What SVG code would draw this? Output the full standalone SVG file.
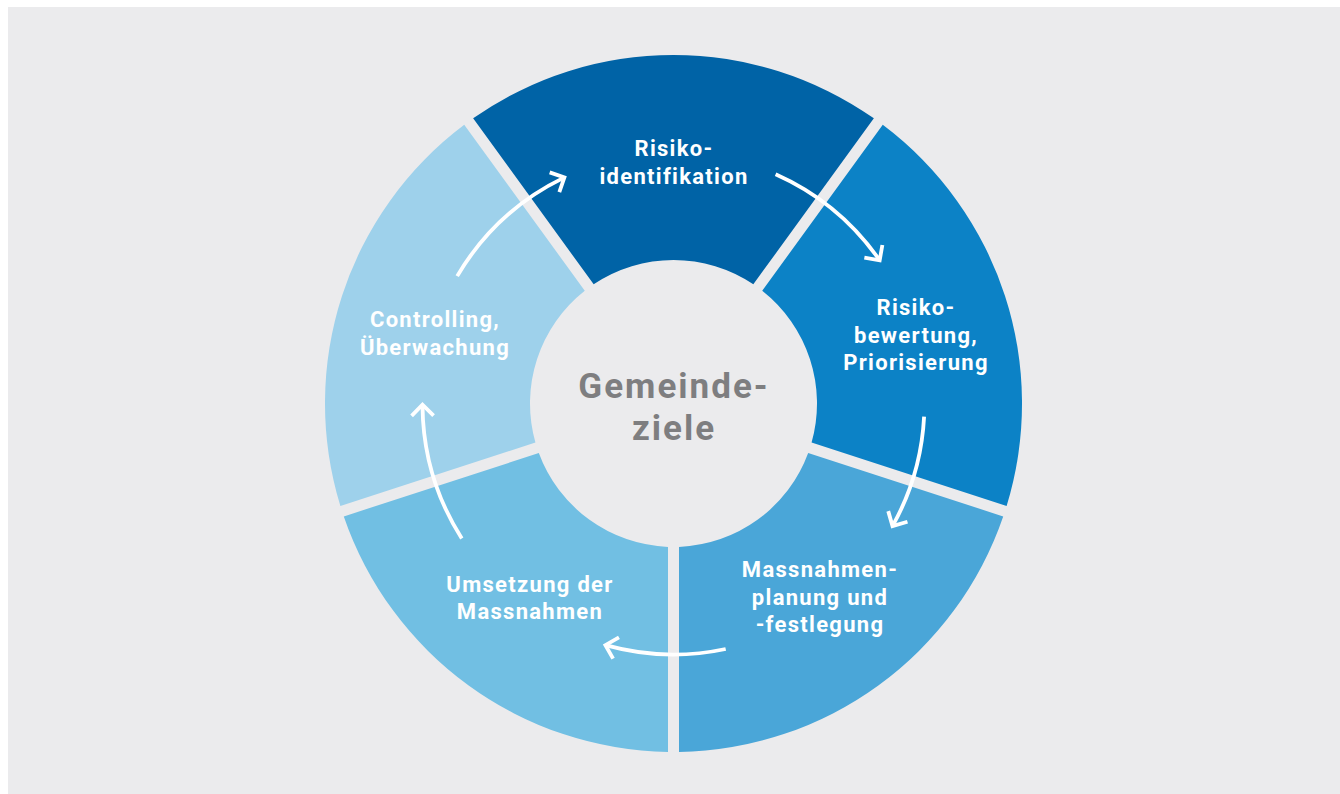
<svg xmlns="http://www.w3.org/2000/svg" width="1340" height="794" viewBox="0 0 1340 794">
  <style>
    .lbl { font-family: Roboto, "Liberation Sans", sans-serif; font-weight: 700; font-size: 22px; letter-spacing: 1.3px; fill: #ffffff; text-anchor: middle; }
    .core { font-family: Roboto, "Liberation Sans", sans-serif; font-weight: 700; font-size: 35px; letter-spacing: 2px; fill: #7e7e80; text-anchor: middle; }
    .flow { fill: none; stroke: #ffffff; stroke-width: 3.8; marker-end: url(#chev); }
  </style>
  <defs>
    <marker id="chev" markerUnits="userSpaceOnUse" viewBox="-14 -14 20 28" refX="-1" refY="0" markerWidth="20" markerHeight="28" orient="auto" overflow="visible">
      <path d="M-11,-11 L0,0 L-11,11" fill="none" stroke="#ffffff" stroke-width="3.8"/>
    </marker>
  </defs>

  <rect x="0" y="0" width="1340" height="794" fill="#ffffff"/>
  <rect x="8" y="7" width="1332" height="787" fill="#ebebed"/>

  <!-- ring segments, clockwise from the top -->
  <g id="risikoidentifikation">
    <path d="M473.13,118.36 A348.5,348.5 0 0 1 873.87,118.36 L753.34,284.26 A143.5,143.5 0 0 0 593.66,284.26 Z" fill="#0063a6"/>
    <text class="lbl" x="674" y="156">Risiko-</text>
    <text class="lbl" x="674" y="184">identifikation</text>
  </g>
  <g id="risikobewertung">
    <path d="M882.77,124.82 A348.5,348.5 0 0 1 1006.61,505.95 L811.58,442.58 A143.5,143.5 0 0 0 762.24,290.72 Z" fill="#0c82c6"/>
    <text class="lbl" x="916" y="315">Risiko-</text>
    <text class="lbl" x="916" y="343">bewertung,</text>
    <text class="lbl" x="916" y="370">Priorisierung</text>
  </g>
  <g id="massnahmenplanung">
    <path d="M1003.21,516.41 A348.5,348.5 0 0 1 679,751.96 L679,546.9 A143.5,143.5 0 0 0 808.18,453.04 Z" fill="#4aa6d8"/>
    <text class="lbl" x="820" y="577">Massnahmen-</text>
    <text class="lbl" x="820" y="605">planung und</text>
    <text class="lbl" x="820" y="632">-festlegung</text>
  </g>
  <g id="umsetzung">
    <path d="M668,751.96 A348.5,348.5 0 0 1 343.79,516.41 L538.82,453.04 A143.5,143.5 0 0 0 668,546.9 Z" fill="#71bfe3"/>
    <text class="lbl" x="530" y="592">Umsetzung der</text>
    <text class="lbl" x="530" y="619">Massnahmen</text>
  </g>
  <g id="controlling">
    <path d="M340.39,505.95 A348.5,348.5 0 0 1 464.23,124.82 L584.76,290.72 A143.5,143.5 0 0 0 535.42,442.58 Z" fill="#9ed1eb"/>
    <text class="lbl" x="435" y="327">Controlling,</text>
    <text class="lbl" x="435" y="355">Überwachung</text>
  </g>

  <g id="gemeindeziele">
    <text class="core" x="674" y="398">Gemeinde-</text>
    <text class="core" x="674" y="440">ziele</text>
  </g>

  <!-- cycle arrows on a circle of radius 251 -->
  <g id="connectors">
    <path class="flow" d="M775.6,174.2 A251,251 0 0 1 879.1,259.5"/>
    <path class="flow" d="M924.1,416.6 A251,251 0 0 1 893,525.2"/>
    <path class="flow" d="M725.7,649 A251,251 0 0 1 606.4,645.4"/>
    <path class="flow" d="M461.8,538.4 A251,251 0 0 1 422.5,405.7"/>
    <path class="flow" d="M457.2,276.1 A251,251 0 0 1 563.5,177.9"/>
  </g>
</svg>
